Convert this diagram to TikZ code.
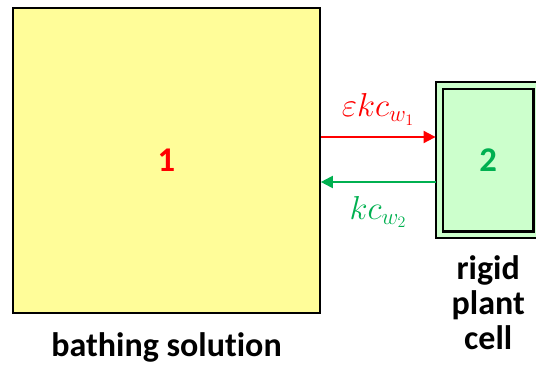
\documentclass[tikz,border=0pt]{standalone}
\usepackage{fontspec}
\setmainfont{Carlito}[Ligatures=NoCommon]
\usetikzlibrary{arrows.meta, positioning, calc}
\definecolor{solfill}{RGB}{255,253,153}
\definecolor{cellfill}{RGB}{204,255,204}
\definecolor{influx}{RGB}{255,0,0}
\definecolor{efflux}{RGB}{0,176,80}

\begin{document}
\begin{tikzpicture}[
    x=0.75pt, y=0.75pt,
    compartment/.style={rectangle, draw=black, inner sep=0pt, font=\fontsize{26}{26}\selectfont\bfseries},
    solbox/.style={compartment, fill=solfill, line width=1.5pt, minimum width=230pt, minimum height=229pt, text=influx},
    cellbox/.style={compartment, fill=cellfill, line width=1.8pt, double=cellfill, double distance=3.2pt,
        minimum width=73pt, minimum height=112pt, outer sep=3pt, text=efflux},
    flux/.style={-{Triangle[length=9pt, width=9pt]}, line width=1.5pt},
    fluxlbl/.style={font=\fontsize{25}{26}\selectfont, inner sep=0pt},
    caption/.style={font=\fontsize{25.5}{26.25}\selectfont\bfseries, align=center, inner sep=0pt},
]
\useasboundingbox (0,0) rectangle (536,365);

% ===== compartments =====
\node[solbox] (sol) at (166.5, 204.5) {1};
\node[cellbox] (cell) at (488.25, 204.75) {2};

% ===== fluxes across the wall =====
\coordinate (inA) at ($(sol.east)+(0,23.5)$);
\coordinate (outA) at ($(sol.east)+(0,-21.5)$);
\draw[flux, influx] (inA) -- (inA -| cell.west)
  node[midway, above=8pt, fluxlbl, text=influx] {$\varepsilon k c_{w_1}$};
\draw[flux, efflux] (outA -| cell.west) -- (outA)
  node[midway, below=10pt, fluxlbl, text=efflux] {$k c_{w_2}$};

% ===== captions =====
\node[caption, below=14pt of sol] (solcap) {bathing solution};
\node[caption, below=12pt of cell] (cellcap) {rigid\\plant\\cell};

\end{tikzpicture}
\end{document}
